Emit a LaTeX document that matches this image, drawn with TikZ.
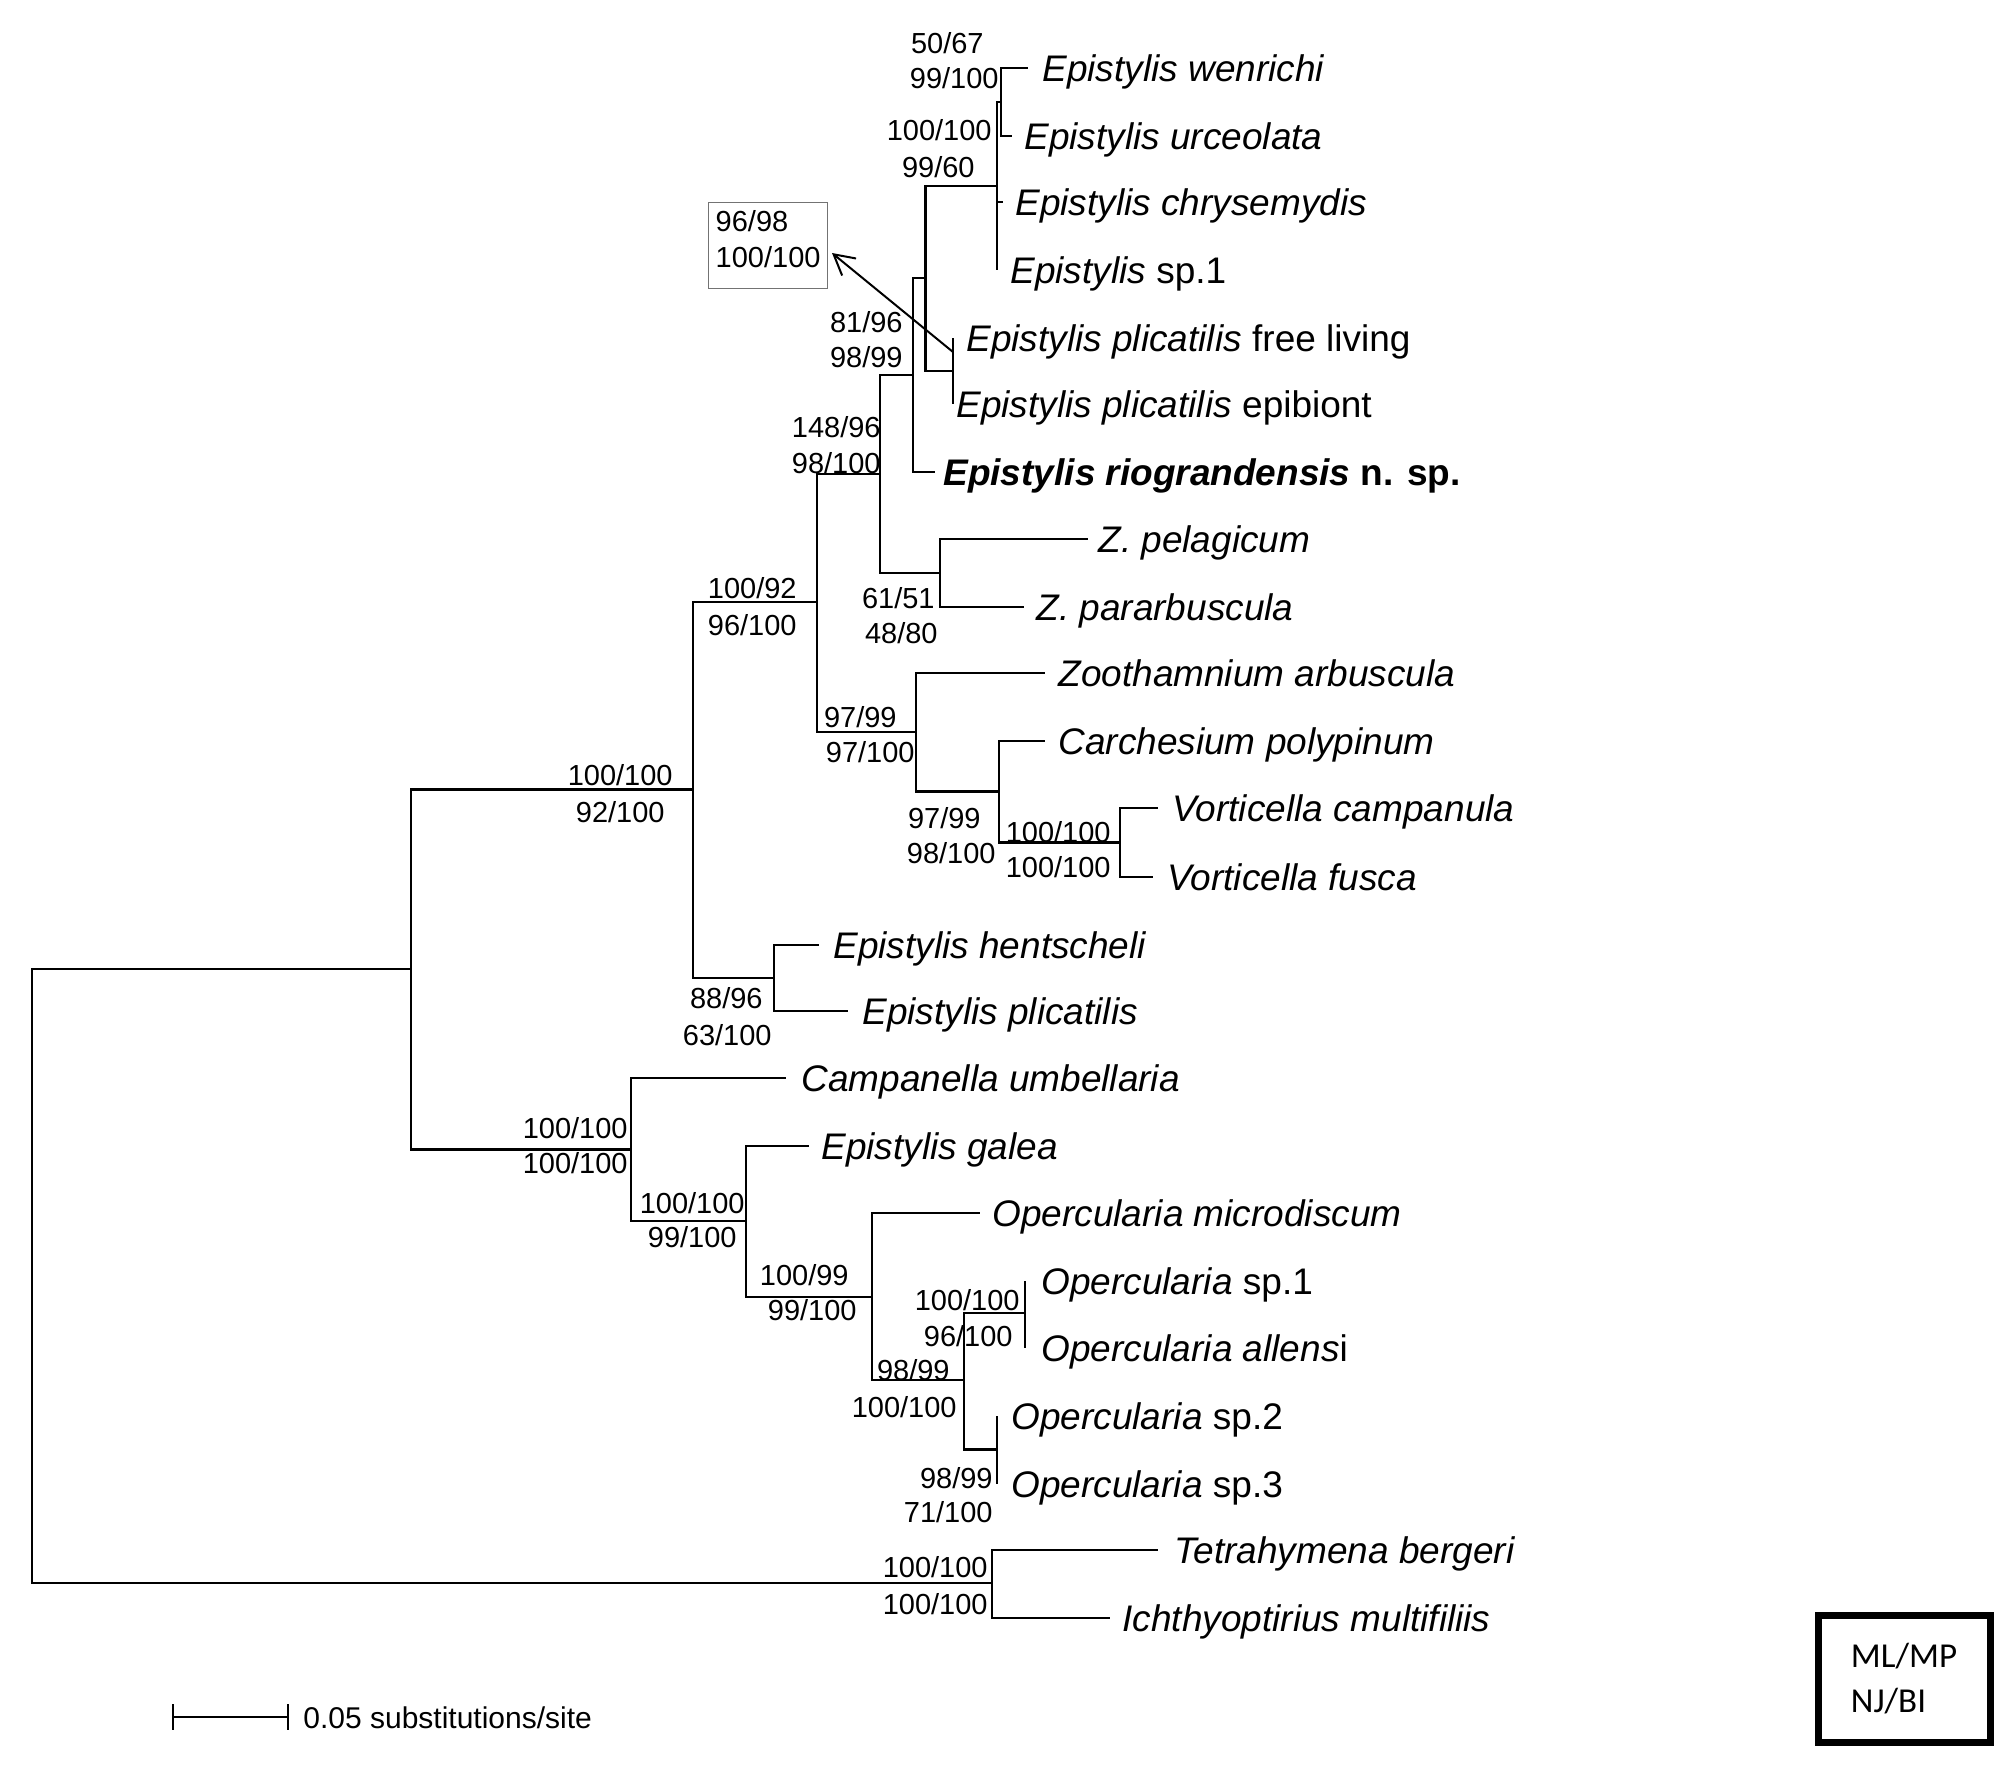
\documentclass[tikz,border=0pt]{standalone}
\usepackage{fontspec}
\setmainfont{Liberation Sans}
\newfontfamily\calibfont{Carlito}
\usetikzlibrary{arrows.meta}
\begin{document}
\begin{tikzpicture}[x=0.5pt,y=-0.5pt,
  br/.style={line width=1.45pt, line join=miter},
  tx/.style={anchor=base west, inner sep=0pt, font=\fontsize{18.5}{22}\selectfont},
  lb/.style={anchor=base east, inner sep=0pt, font=\fontsize{14.5}{17}\selectfont},
  ]
\useasboundingbox (0,0) rectangle (2007,1769);
% internal nodes
\coordinate (root) at (32,1276);
\coordinate (nI) at (411,969);
\coordinate (nA) at (693,789.5);
\coordinate (nB) at (817,602);
\coordinate (nC) at (880,474);
\coordinate (nD) at (913,375);
\coordinate (nF) at (925.5,278);
\coordinate (nE) at (997,186);
\coordinate (nW) at (1001,102);
\coordinate (nP) at (953,371);
\coordinate (nZ) at (940,573);
\coordinate (nV) at (916,732);
\coordinate (nK) at (999,791.5);
\coordinate (nL) at (1120,842.5);
\coordinate (nH) at (774,978);
\coordinate (nQ) at (631,1149.5);
\coordinate (nR) at (746,1221);
\coordinate (nS) at (872,1297);
\coordinate (nU) at (964,1380);
\coordinate (nT) at (1025,1313);
\coordinate (nX) at (997,1449.5);
\coordinate (nO) at (992,1583);
% tips
\coordinate (p1) at (1028,68);
\coordinate (p2) at (1012,136);
\coordinate (p3) at (1003,202);
\coordinate (p4) at (997,270);
\coordinate (p5) at (953,338);
\coordinate (p6) at (953,404);
\coordinate (p7) at (935,472);
\coordinate (p8) at (1088,539);
\coordinate (p9) at (1024,607);
\coordinate (p10) at (1045,673);
\coordinate (p11) at (1045,741);
\coordinate (p12) at (1158,808);
\coordinate (p13) at (1153,877);
\coordinate (p14) at (819,945);
\coordinate (p15) at (848,1011);
\coordinate (p16) at (786,1078);
\coordinate (p17) at (809,1146);
\coordinate (p18) at (980,1213);
\coordinate (p19) at (1025,1281);
\coordinate (p20) at (1025,1348);
\coordinate (p21) at (997,1416);
\coordinate (p22) at (997,1484);
\coordinate (p23) at (1158,1550);
\coordinate (p24) at (1110,1618);
% taxa
\node[tx] (t1) at (1042,81) {\itshape Epistylis wenrichi};
\node[tx] (t2) at (1024,149) {\itshape Epistylis urceolata};
\node[tx] (t3) at (1015,215) {\itshape Epistylis chrysemydis};
\node[tx] (t4) at (1010,283) {\textit{Epistylis} sp.1};
\node[tx] (t5) at (966,351) {\textit{Epistylis plicatilis} free living};
\node[tx] (t6) at (956,417) {\textit{Epistylis plicatilis} epibiont};
\node[tx] (t7) at (943,485) {\bfseries\textit{Epistylis riograndensis} n. sp.};
\node[tx] (t8) at (1098,552) {\itshape Z. pelagicum};
\node[tx] (t9) at (1036,620) {\itshape Z. pararbuscula};
\node[tx] (t10) at (1058,686) {\itshape Zoothamnium arbuscula};
\node[tx] (t11) at (1058,754) {\itshape Carchesium polypinum};
\node[tx] (t12) at (1172,821) {\itshape Vorticella campanula};
\node[tx] (t13) at (1167,890) {\itshape Vorticella fusca};
\node[tx] (t14) at (833,958) {\itshape Epistylis hentscheli};
\node[tx] (t15) at (862,1024) {\itshape Epistylis plicatilis};
\node[tx] (t16) at (801,1091) {\itshape Campanella umbellaria};
\node[tx] (t17) at (821,1159) {\itshape Epistylis galea};
\node[tx] (t18) at (992,1226) {\itshape Opercularia microdiscum};
\node[tx] (t19) at (1041,1294) {\textit{Opercularia} sp.1};
\node[tx] (t20) at (1041,1361) {\textit{Opercularia allens}i};
\node[tx] (t21) at (1011,1429) {\textit{Opercularia} sp.2};
\node[tx] (t22) at (1011,1497) {\textit{Opercularia} sp.3};
\node[tx] (t23) at (1174,1563) {\itshape Tetrahymena bergeri};
\node[tx] (t24) at (1122,1631) {\itshape Ichthyoptirius multifiliis};
% branches
\draw[br] (root) |- (nI);
\draw[br] (root) |- (nO);
\draw[br] (nI) |- (nA);
\draw[br] (nI) |- (nQ);
\draw[br] (nA) |- (nB);
\draw[br] (nA) |- (nH);
\draw[br] (nB) |- (nC);
\draw[br] (nB) |- (nV);
\draw[br] (nC) |- (nD);
\draw[br] (nC) |- (nZ);
\draw[br] (nD) |- (nF);
\draw[br] (nD) |- (p7);
\draw[br] (nF) |- (nE);
\draw[br] (nF) |- (nP);
\draw[br] (nE) |- (nW);
\draw[br] (nE) |- (p3);
\draw[br] (nE) |- (p4);
\draw[br] (nW) |- (p1);
\draw[br] (nW) |- (p2);
\draw[br] (nP) |- (p5);
\draw[br] (nP) |- (p6);
\draw[br] (nZ) |- (p8);
\draw[br] (nZ) |- (p9);
\draw[br] (nV) |- (p10);
\draw[br] (nV) |- (nK);
\draw[br] (nK) |- (p11);
\draw[br] (nK) |- (nL);
\draw[br] (nL) |- (p12);
\draw[br] (nL) |- (p13);
\draw[br] (nH) |- (p14);
\draw[br] (nH) |- (p15);
\draw[br] (nQ) |- (p16);
\draw[br] (nQ) |- (nR);
\draw[br] (nR) |- (p17);
\draw[br] (nR) |- (nS);
\draw[br] (nS) |- (p18);
\draw[br] (nS) |- (nU);
\draw[br] (nU) |- (nT);
\draw[br] (nU) |- (nX);
\draw[br] (nT) |- (p19);
\draw[br] (nT) |- (p20);
\draw[br] (nX) |- (p21);
\draw[br] (nX) |- (p22);
\draw[br] (nO) |- (p23);
\draw[br] (nO) |- (p24);
% support labels
\node[lb] (l1a) at (984,53) {50/67};
\node[lb] (l1b) at (999,88) {99/100};
\node[lb] (l2a) at (992,140) {100/100};
\node[lb] (l2b) at (975,177) {99/60};
\node[lb] (l4a) at (903,332) {81/96};
\node[lb] (l4b) at (903,367) {98/99};
\node[lb] (l5a) at (881,437) {148/96};
\node[lb] (l5b) at (881,473) {98/100};
\node[lb] (l6a) at (797,598) {100/92};
\node[lb] (l6b) at (797,635) {96/100};
\node[lb] (l7a) at (935,608) {61/51};
\node[lb] (l7b) at (938,643) {48/80};
\node[lb] (l8a) at (897,727) {97/99};
\node[lb] (l8b) at (915,762) {97/100};
\node[lb] (l9a) at (981,828) {97/99};
\node[lb] (l9b) at (996,863) {98/100};
\node[lb] (l10a) at (1111,842) {100/100};
\node[lb] (l10b) at (1111,877) {100/100};
\node[lb] (l11a) at (763,1008) {88/96};
\node[lb] (l11b) at (772,1045) {63/100};
\node[lb] (l12a) at (628,1138) {100/100};
\node[lb] (l12b) at (628,1173) {100/100};
\node[lb] (l13a) at (745,1213) {100/100};
\node[lb] (l13b) at (737,1247) {99/100};
\node[lb] (l14a) at (849,1285) {100/99};
\node[lb] (l14b) at (857,1320) {99/100};
\node[lb] (l15a) at (1020,1310) {100/100};
\node[lb] (l15b) at (1013,1346) {96/100};
\node[lb] (l16a) at (950,1380) {98/99};
\node[lb] (l16b) at (957,1417) {100/100};
\node[lb] (l17a) at (993,1488) {98/99};
\node[lb] (l17b) at (993,1522) {71/100};
\node[lb] (l18a) at (988,1577) {100/100};
\node[lb] (l18b) at (988,1614) {100/100};
\node[lb] (l19a) at (673,785) {100/100};
\node[lb] (l19b) at (665,822) {92/100};
% boxed label with arrow
\node[draw=black!55, line width=0.7pt, anchor=north west, minimum width=57.5pt, minimum height=43pt,
      inner xsep=3.5pt, align=left, font=\fontsize{14.5}{18}\selectfont] (bx) at (708,202) {96/98\\100/100\\[-11pt]\mbox{}};
\coordinate (as) at (953,352);
\coordinate (ah) at (832,253);
\draw[line width=1pt, -{Straight Barb[length=10pt,width=11pt,line width=1pt]}] (as) -- (ah);
% scale bar
\coordinate (sbL) at (173,1717);
\coordinate (sbR) at (288,1717);
\draw[line width=1.2pt] (sbL) -- (sbR);
\draw[line width=1.2pt] ([yshift=6.5pt]sbL) -- ([yshift=-6.5pt]sbL);
\draw[line width=1.2pt] ([yshift=6.5pt]sbR) -- ([yshift=-6.5pt]sbR);
\node[anchor=base west, inner sep=0pt, font=\fontsize{15}{18}\selectfont] (sbt) at (303,1728) {0.05 substitutions/site};
% legend
\node[draw, line width=3.5pt, minimum width=86pt, minimum height=63.5pt, align=left,
      font=\calibfont\fontsize{17.5}{22.5}\selectfont] (leg) at (1904,1678.5) {ML/MP\\NJ/BI};
\end{tikzpicture}
\end{document}
